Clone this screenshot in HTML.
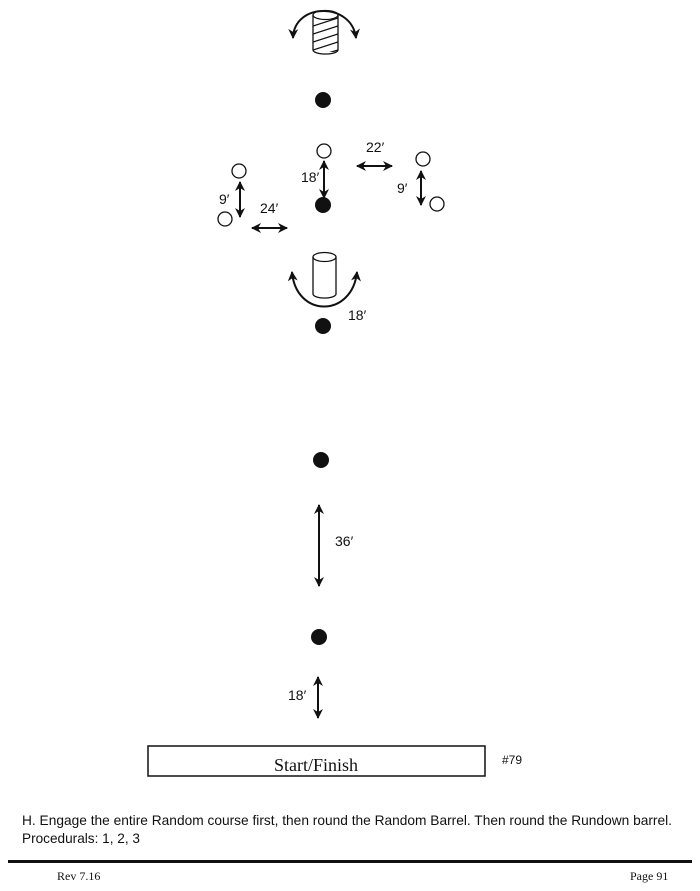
<!DOCTYPE html>
<html><head><meta charset="utf-8"><style>
html,body{margin:0;padding:0;background:#fff;}
svg{display:block;}
</style></head><body>
<svg width="700" height="891" viewBox="0 0 700 891" xmlns="http://www.w3.org/2000/svg">
<defs>
<marker id="ah" viewBox="0 0 10 10" refX="9" refY="5" markerWidth="5" markerHeight="5" orient="auto-start-reverse">
<path d="M0,0 L10,5 L0,10 L3,5 z" fill="#111"/>
</marker>
<clipPath id="bc"><rect x="313" y="15" width="25" height="37"/></clipPath>
</defs>
<g fill="none" stroke="#111" stroke-width="2">
<path d="M293,38 C294,2 352,2 356,38" marker-start="url(#ah)" marker-end="url(#ah)"/>
<g stroke-width="1.3">
<path d="M313,15 L313,50 A12.5,4 0 0 0 338,50 L338,15"/>
<ellipse cx="325.5" cy="15" rx="12.5" ry="4.5"/>
<g clip-path="url(#bc)">
<line x1="313" y1="26" x2="338" y2="18"/>
<line x1="313" y1="34" x2="338" y2="26"/>
<line x1="313" y1="42" x2="338" y2="34"/>
<line x1="313" y1="50" x2="338" y2="42"/>
<line x1="318" y1="56" x2="338" y2="50"/>
</g>
</g>
<path d="M292,272 C296,318 352,318 357,272" marker-start="url(#ah)" marker-end="url(#ah)"/>
<g stroke-width="1.3">
<path d="M313,257 L313,294 A11.5,4 0 0 0 336,294 L336,257"/>
<ellipse cx="324.5" cy="257" rx="11.5" ry="4.5"/>
</g>
<g stroke-width="1.3">
<circle cx="324" cy="151" r="7"/>
<circle cx="423" cy="159" r="7"/>
<circle cx="437" cy="204" r="7"/>
<circle cx="239" cy="171" r="7"/>
<circle cx="225" cy="219" r="7"/>
</g>
<line x1="324" y1="161" x2="324" y2="198" marker-start="url(#ah)" marker-end="url(#ah)"/>
<line x1="357" y1="166" x2="392" y2="166" marker-start="url(#ah)" marker-end="url(#ah)"/>
<line x1="421" y1="171" x2="421" y2="205" marker-start="url(#ah)" marker-end="url(#ah)"/>
<line x1="240" y1="182" x2="240" y2="217" marker-start="url(#ah)" marker-end="url(#ah)"/>
<line x1="252" y1="228" x2="287" y2="228" marker-start="url(#ah)" marker-end="url(#ah)"/>
<line x1="319" y1="505" x2="319" y2="586" marker-start="url(#ah)" marker-end="url(#ah)"/>
<line x1="318" y1="677" x2="318" y2="718" marker-start="url(#ah)" marker-end="url(#ah)"/>
<rect x="148" y="746" width="337" height="30" stroke-width="1.5"/>
</g>
<g fill="#111">
<circle cx="323" cy="100" r="8"/>
<circle cx="323" cy="205" r="8"/>
<circle cx="323" cy="326" r="8"/>
<circle cx="321" cy="460" r="8"/>
<circle cx="319" cy="637" r="8"/>
</g>
<g font-family="Liberation Sans, sans-serif" font-size="14" fill="#111">
<text x="301" y="182">18′</text>
<text x="366" y="152">22′</text>
<text x="397" y="193">9′</text>
<text x="219" y="204">9′</text>
<text x="260" y="213">24′</text>
<text x="348" y="320">18′</text>
<text x="335" y="546">36′</text>
<text x="288" y="700">18′</text>
<text x="502" y="764" font-size="12">#79</text>
<text x="22" y="825" font-size="13.8" textLength="650" lengthAdjust="spacingAndGlyphs">H. Engage the entire Random course first, then round the Random Barrel. Then round the Rundown barrel.</text>
<text x="22" y="843" font-size="13.8" textLength="118" lengthAdjust="spacingAndGlyphs">Procedurals: 1, 2, 3</text>
</g>
<text x="316" y="771" text-anchor="middle" font-family="Liberation Serif, serif" font-size="18" fill="#111">Start/Finish</text>
<rect x="8" y="860" width="684" height="3" fill="#111"/>
<g font-family="Liberation Serif, serif" font-size="12" fill="#111">
<text x="57" y="880">Rev 7.16</text>
<text x="630" y="880">Page 91</text>
</g>
</svg>
</body></html>
